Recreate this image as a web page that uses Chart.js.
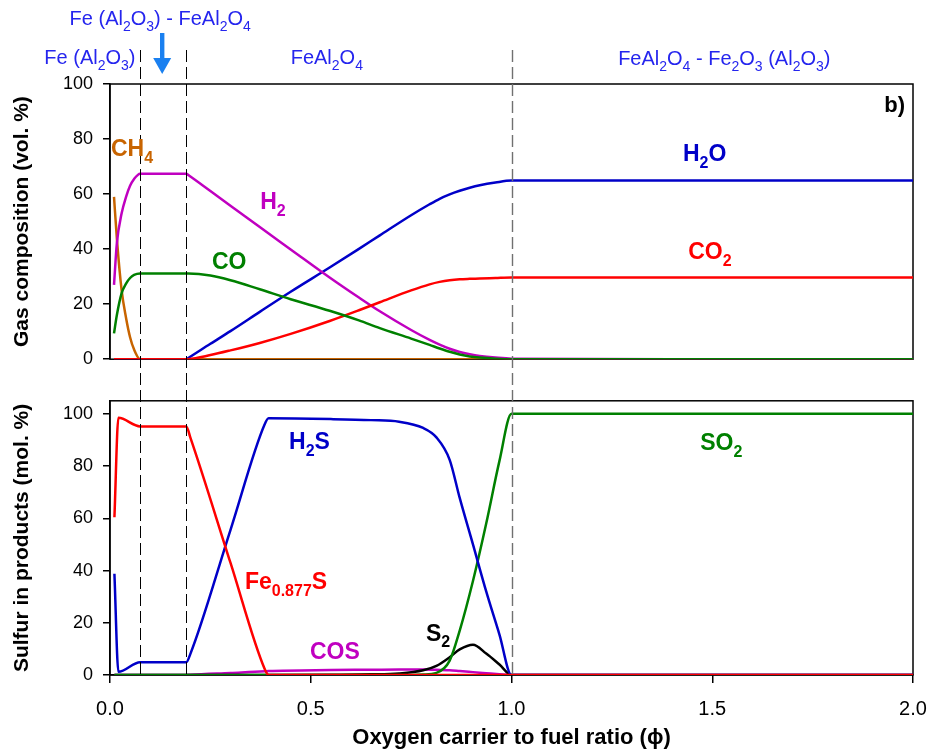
<!DOCTYPE html>
<html>
<head>
<meta charset="utf-8">
<script src="https://cdn.jsdelivr.net/npm/chart.js@4.4.0/dist/chart.umd.min.js"></script>
<style>
    html, body { margin: 0; padding: 0; background: #fff; }
    #lienzo { position: relative; width: 936px; height: 756px; }
    #gas { position: absolute; left: 0; top: 0; }
    #azufre { position: absolute; left: 0; top: 380px; }
</style>
</head>
<body>
<div id="lienzo">
    <canvas id="gas" width="936" height="380"></canvas>
    <canvas id="azufre" width="936" height="376"></canvas>
</div>
<script>
// datos (phi = relacion transportador de oxigeno / combustible)
var phiGas = [0.01, 0.017, 0.029, 0.04, 0.05, 0.06, 0.075, 0.19, 0.195, 0.25, 0.3, 0.373, 0.45, 0.547, 0.62, 0.672, 0.75, 0.796, 0.821, 0.846, 0.871, 0.896, 0.921, 0.96, 1.0, 1.5, 2.0];
var h2o = [0, 0, 0, 0, 0, 0, 0, 0, 0.45, 5.6, 10.2, 17.2, 24.5, 33.3, 40.1, 45, 52.3, 56.3, 58.3, 59.9, 61.2, 62.3, 63.2, 64.2, 64.9, 64.9, 64.9];
var h2 = [27, 42, 53, 59, 63, 65.5, 67.4, 67.4, 66.9, 61.1, 55.8, 48, 39.9, 29.7, 22.4, 17.4, 10.6, 7, 5.3, 3.8, 2.6, 1.8, 1.2, 0.6, 0.2, 0, 0];
var co = [9.4, 16, 24, 27.5, 29.5, 30.6, 31.1, 31.1, 31.1, 30.4, 28.7, 25.4, 21.8, 17.6, 14.1, 11.3, 7.5, 5.2, 3.9, 2.7, 1.7, 1.0, 0.6, 0.2, 0, 0, 0];
var co2 = [0, 0, 0, 0, 0, 0, 0, 0, 0.02, 1.5, 3.2, 5.9, 9.2, 13.9, 17.8, 20.7, 25, 27.2, 28.1, 28.7, 29.05, 29.2, 29.3, 29.5, 29.7, 29.7, 29.7];
var ch4 = [59, 44, 25, 15, 8, 3.5, 0, 0, 0, 0, 0, 0, 0, 0, 0, 0, 0, 0, 0, 0, 0, 0, 0, 0, 0, 0, 0];

var phiS = [0.011, 0.021, 0.075, 0.19, 0.2, 0.3, 0.385, 0.395, 0.55, 0.65, 0.72, 0.78, 0.813, 0.846, 0.871, 0.904, 0.937, 0.97, 1.0, 1.5, 2.0];
var feS = [60.4, 98.5, 95.2, 95.2, 91, 43, 2.4, 0, 0, 0, 0, 0, 0, 0, 0, 0, 0, 0, 0, 0, 0];
var h2s = [38.8, 1.2, 4.9, 4.9, 8, 55.5, 95.9, 98.3, 98, 97.6, 97, 94.6, 91, 82.4, 67.8, 50, 32, 15.5, 0, 0, 0];
var so2 = [0, 0, 0, 0, 0, 0, 0, 0, 0, 0, 0, 0.2, 0.8, 5.5, 17, 36, 58, 82, 100, 100, 100];
var s2 = [0, 0, 0, 0, 0, 0, 0, 0, 0.1, 0.25, 0.6, 1.8, 3.5, 6.8, 9.8, 11.6, 8.2, 4, 0, 0, 0];
var cos = [0, 0, 0, 0, 0.1, 0.8, 1.4, 1.5, 1.9, 2.0, 2.1, 2.1, 2.0, 1.8, 1.5, 1.1, 0.7, 0.3, 0, 0, 0];

var xTicks = [0, 0.5, 1.0, 1.5, 2.0];
var yTicks = [0, 20, 40, 60, 80, 100];
var limites = [0.075, 0.19, 1.0];

var FUENTE = "'Liberation Sans', Arial, sans-serif";
var AZUL = '#0000c8', ROJO = '#ff0000', VERDE = '#008000', MAGENTA = '#c000c0', CAFE = '#c86400';
var AZUL_TXT = '#2525ee';

var puntos = function (xs, ys) {
    return xs.map(function (x, i) { return { x: x, y: ys[i] }; });
};

var serie = function (label, xs, ys, color) {
    return {
        label: label,
        data: puntos(xs, ys),
        borderColor: color,
        backgroundColor: color,
        borderWidth: 2.5,
        pointRadius: 0,
        fill: false,
        cubicInterpolationMode: 'monotone'
    };
};

// texto con subindices: partes = [[texto, esSub], ...]
var texto_rico = function (ctx, partes, x, y, size, peso, color, align) {
    var sub = Math.round(size * 0.7);
    var ancho = 0;
    partes.forEach(function (p) {
        ctx.font = peso + ' ' + (p[1] ? sub : size) + 'px ' + FUENTE;
        ancho += ctx.measureText(p[0]).width;
    });
    var cx = x;
    if (align === 'center') cx = x - ancho / 2;
    if (align === 'right') cx = x - ancho;
    ctx.fillStyle = color;
    ctx.textAlign = 'left';
    ctx.textBaseline = 'alphabetic';
    partes.forEach(function (p) {
        ctx.font = peso + ' ' + (p[1] ? sub : size) + 'px ' + FUENTE;
        ctx.fillText(p[0], cx, y + (p[1] ? size * 0.3 : 0));
        cx += ctx.measureText(p[0]).width;
    });
};

var marco = {
    id: 'marco',
    beforeDatasetsDraw: function (chart) {
        var a = chart.chartArea, ctx = chart.ctx;
        ctx.save();
        ctx.strokeStyle = '#000';
        ctx.lineWidth = 1.5;
        ctx.strokeRect(a.left, a.top, a.right - a.left, a.bottom - a.top);
        ctx.restore();
    }
};

var lineas_limite = function (desde, hasta, desfase) {
    return {
        id: 'limites',
        afterDatasetsDraw: function (chart) {
            var ctx = chart.ctx, x = chart.scales.x;
            var y1 = hasta === null ? chart.chartArea.bottom : hasta;
            ctx.save();
            ctx.setLineDash([12, 5]);
            ctx.lineDashOffset = desfase;
            limites.forEach(function (phi, i) {
                var px = Math.round(x.getPixelForValue(phi)) + 0.5;
                ctx.strokeStyle = i < 2 ? '#000' : '#707070';
                ctx.lineWidth = i < 2 ? 1 : 1.4;
                ctx.beginPath();
                ctx.moveTo(px, desde);
                ctx.lineTo(px, y1);
                ctx.stroke();
            });
            ctx.restore();
        }
    };
};

var etiquetas = function (lista) {
    return {
        id: 'etiquetas',
        afterDatasetsDraw: function (chart) {
            var ctx = chart.ctx, x = chart.scales.x, y = chart.scales.y;
            ctx.save();
            lista.forEach(function (e) {
                texto_rico(ctx, e.partes, x.getPixelForValue(e.phi), y.getPixelForValue(e.val), e.size, 'bold', e.color, e.align || 'left');
            });
            ctx.restore();
        }
    };
};

var fases = {
    id: 'fases',
    afterDraw: function (chart) {
        var ctx = chart.ctx, x = chart.scales.x, top = chart.chartArea.top;
        ctx.save();
        texto_rico(ctx, [['Fe (Al', 0], ['2', 1], ['O', 0], ['3', 1], [') - FeAl', 0], ['2', 1], ['O', 0], ['4', 1]], x.getPixelForValue(0.125), top - 59, 20, 'normal', AZUL_TXT, 'center');
        texto_rico(ctx, [['Fe (Al', 0], ['2', 1], ['O', 0], ['3', 1], [')', 0]], x.getPixelForValue(-0.05), top - 20, 20, 'normal', AZUL_TXT, 'center');
        texto_rico(ctx, [['FeAl', 0], ['2', 1], ['O', 0], ['4', 1]], x.getPixelForValue(0.54), top - 20, 20, 'normal', AZUL_TXT, 'center');
        texto_rico(ctx, [['FeAl', 0], ['2', 1], ['O', 0], ['4', 1], [' - Fe', 0], ['2', 1], ['O', 0], ['3', 1], [' (Al', 0], ['2', 1], ['O', 0], ['3', 1], [')', 0]], x.getPixelForValue(1.53), top - 19, 20, 'normal', AZUL_TXT, 'center');
        // flecha
        var ax = x.getPixelForValue(0.13);
        ctx.fillStyle = '#1a80f0';
        ctx.fillRect(ax - 2.2, 33, 4.4, 28);
        ctx.beginPath();
        ctx.moveTo(ax - 9, 58);
        ctx.lineTo(ax + 9, 58);
        ctx.lineTo(ax, 74);
        ctx.closePath();
        ctx.fill();
        ctx.restore();
    }
};

var eje_y = function (titulo, max) {
    return {
        min: 0,
        max: max,
        afterFit: function (s) { s.width = 110; },
        afterBuildTicks: function (s) { s.ticks = yTicks.map(function (v) { return { value: v }; }); },
        ticks: { color: '#000', font: { family: FUENTE, size: 18 }, padding: 10 },
        grid: { drawOnChartArea: false, drawTicks: true, tickLength: 7, color: '#000', lineWidth: 1.5 },
        border: { display: true, color: '#000', width: 1.5 },
        title: { display: true, text: titulo, color: '#000', font: { family: FUENTE, size: 21, weight: 'bold' }, padding: { top: 10, bottom: 0 } }
    };
};

var base = function () {
    return {
        responsive: false,
        animation: false,
        plugins: { legend: { display: false }, tooltip: { enabled: false } }
    };
};

var grafico_gas = function () {
    var opt = base();
    opt.layout = { padding: { left: 0, right: 23, top: 84, bottom: 10 } };
    opt.scales = {
        x: { type: 'linear', min: 0, max: 2, display: false },
        y: eje_y('Gas composition (vol. %)', 100)
    };
    return new Chart(document.getElementById('gas'), {
        type: 'line',
        data: {
            datasets: [
                serie('CO', phiGas, co, VERDE),
                serie('CO2', phiGas, co2, ROJO),
                serie('H2', phiGas, h2, MAGENTA),
                serie('H2O', phiGas, h2o, AZUL),
                serie('CH4', phiGas, ch4, CAFE)
            ]
        },
        options: opt,
        plugins: [marco, lineas_limite(50, 380, 0), fases, etiquetas([
            { partes: [['CH', 0], ['4', 1]], phi: 0.0025, val: 73.8, size: 23, color: CAFE },
            { partes: [['H', 0], ['2', 1]], phi: 0.374, val: 54.5, size: 23, color: MAGENTA },
            { partes: [['CO', 0]], phi: 0.254, val: 32.7, size: 23, color: VERDE },
            { partes: [['H', 0], ['2', 1], ['O', 0]], phi: 1.427, val: 71.9, size: 23, color: AZUL },
            { partes: [['CO', 0], ['2', 1]], phi: 1.44, val: 36.5, size: 23, color: ROJO },
            { partes: [['b)', 0]], phi: 1.98, val: 89.7, size: 22, color: '#000', align: 'right' }
        ])]
    });
};

var grafico_azufre = function () {
    var opt = base();
    opt.layout = { padding: { left: 0, right: 23, top: 8, bottom: 0 } };
    opt.scales = {
        x: {
            type: 'linear', min: 0, max: 2,
            afterFit: function (s) { s.height = 81; s.paddingLeft = 0; s.paddingRight = 0; },
            afterBuildTicks: function (s) { s.ticks = xTicks.map(function (v) { return { value: v }; }); },
            ticks: { color: '#000', font: { family: FUENTE, size: 20 }, padding: 14, maxRotation: 0,
                callback: function (v) { return Number(v).toFixed(1); } },
            grid: { drawOnChartArea: false, drawTicks: true, tickLength: 8, color: '#000', lineWidth: 1.5 },
            border: { display: true, color: '#000', width: 1.5 },
            title: { display: true, text: 'Oxygen carrier to fuel ratio (\u03d5)', color: '#000',
                font: { family: FUENTE, size: 22, weight: 'bold' }, padding: { top: 0, bottom: 5 } }
        },
        y: eje_y('Sulfur in products (mol. %)', 105)
    };
    return new Chart(document.getElementById('azufre'), {
        type: 'line',
        data: {
            datasets: [
                serie('Fe0.877S', phiS, feS, ROJO),
                serie('H2S', phiS, h2s, AZUL),
                serie('SO2', phiS, so2, VERDE),
                serie('S2', phiS, s2, '#000'),
                serie('COS', phiS, cos, MAGENTA)
            ]
        },
        options: opt,
        plugins: [marco, lineas_limite(0, null, (380 - 50) % 17), etiquetas([
            { partes: [['H', 0], ['2', 1], ['S', 0]], phi: 0.446, val: 86.4, size: 23, color: AZUL },
            { partes: [['SO', 0], ['2', 1]], phi: 1.47, val: 86.3, size: 23, color: VERDE },
            { partes: [['Fe', 0], ['0.877', 1], ['S', 0]], phi: 0.336, val: 32.8, size: 23, color: ROJO },
            { partes: [['COS', 0]], phi: 0.498, val: 6.0, size: 23, color: MAGENTA },
            { partes: [['S', 0], ['2', 1]], phi: 0.787, val: 13.2, size: 23, color: '#000' }
        ])]
    });
};

grafico_gas();
grafico_azufre();
</script>
</body>
</html>
